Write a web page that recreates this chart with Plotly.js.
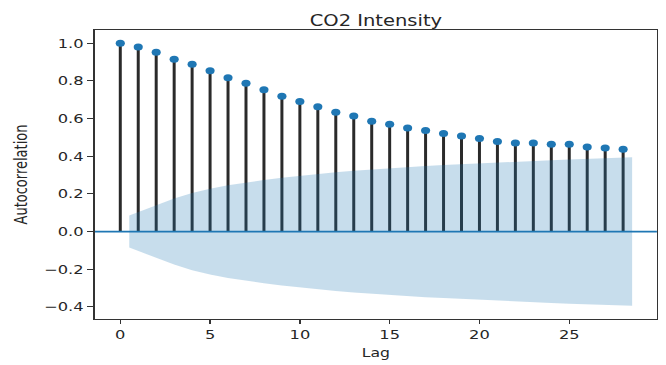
<!DOCTYPE html>
<html><head><meta charset="utf-8">
<script src="https://cdn.plot.ly/plotly-3.0.1.min.js"></script>
<style>
html,body{margin:0;padding:0;overflow:hidden;background:#fff;}
#wrap{width:666px;height:365px;overflow:hidden;}
#chart{width:512px;height:365px;transform:scaleX(1.30078);transform-origin:0 0;}
</style></head><body>
<div id="wrap"><div id="chart"></div></div>
<script>
const lags = [0,1,2,3,4,5,6,7,8,9,10,11,12,13,14,15,16,17,18,19,20,21,22,23,24,25,26,27,28];
const acf = [1.0,0.980,0.952,0.915,0.888,0.854,0.817,0.788,0.753,0.718,0.691,0.662,0.634,0.613,0.586,0.570,0.550,0.536,0.520,0.508,0.494,0.478,0.470,0.470,0.464,0.464,0.449,0.444,0.437];
// 95% confidence half-width for lags 1..28
const bandLags = [1,2,3,4,5,6,7,8,9,10,11,12,13,14,15,16,17,18,19,20,21,22,23,24,25,26,27,28];
const conf = [0.085,0.140,0.175,0.205,0.228,0.246,0.261,0.274,0.286,0.297,0.306,0.315,0.323,0.330,0.336,0.342,0.348,0.353,0.358,0.363,0.367,0.371,0.375,0.379,0.383,0.387,0.390,0.394];
const xTicks = [0,5,10,15,20,25];
const yTicks = [-0.4,-0.2,0.0,0.2,0.4,0.6,0.8,1.0];

const stemX = [], stemY = [];
lags.forEach((k,i)=>{ stemX.push(k,k,null); stemY.push(0,acf[i],null); });
const bandX = bandLags.slice();
bandX[0] -= 0.5; bandX[bandX.length-1] += 0.5;

const font = 'DejaVu Sans, sans-serif';
const traces = [
  {x: stemX, y: stemY, mode:'lines', line:{color:'#2a2a2a', width:2.3}, hoverinfo:'skip', showlegend:false},
  {x: lags, y: acf, mode:'markers', marker:{color:'#1f77b4', size:7}, showlegend:false},
  {x: bandX, y: conf, mode:'lines', line:{width:0, color:'rgba(0,0,0,0)'}, showlegend:false, hoverinfo:'skip'},
  {x: bandX, y: conf.map(v=>-v), mode:'lines', line:{width:0, color:'rgba(0,0,0,0)'}, fill:'tonexty', fillcolor:'rgba(31,119,180,0.25)', showlegend:false, hoverinfo:'skip'}
];
const axisCommon = {showline:true, mirror:true, linecolor:'#333', linewidth:1.2, ticks:'outside', tickcolor:'#333', showgrid:false, zeroline:false, tickfont:{family:font, size:12.5, color:'#262626'}};
const layout = {
  width:512, height:365,
  margin:{l:73, r:7, t:30, b:46},
  paper_bgcolor:'#fff', plot_bgcolor:'#fff',
  title:{text:'CO2 Intensity', font:{family:font, size:15, color:'#262626'}, x:0.5, xref:'paper', y:1, yref:'paper', yanchor:'bottom', pad:{b:4}},
  xaxis: Object.assign({}, axisCommon, {range:[-1.41, 29.88], tickvals:xTicks, ticktext:xTicks.map(String), ticklen:4,
    title:{text:'Lag', font:{family:font, size:12, color:'#262626'}, standoff:7}}),
  yaxis: Object.assign({}, axisCommon, {range:[-0.464, 1.07], tickvals:yTicks, ticktext:yTicks.map(v=>v.toFixed(1).replace('-', '\u2212')), ticklen:5,
    title:{text:'Autocorrelation', font:{family:font, size:13, color:'#262626'}, standoff:9}}),
  shapes:[{type:'line', xref:'paper', x0:0, x1:1, yref:'y', y0:0, y1:0, line:{color:'#1f77b4', width:1.8}, layer:'above'}]
};
Plotly.newPlot('chart', traces, layout, {displayModeBar:false, staticPlot:true});
</script>
</body></html>
